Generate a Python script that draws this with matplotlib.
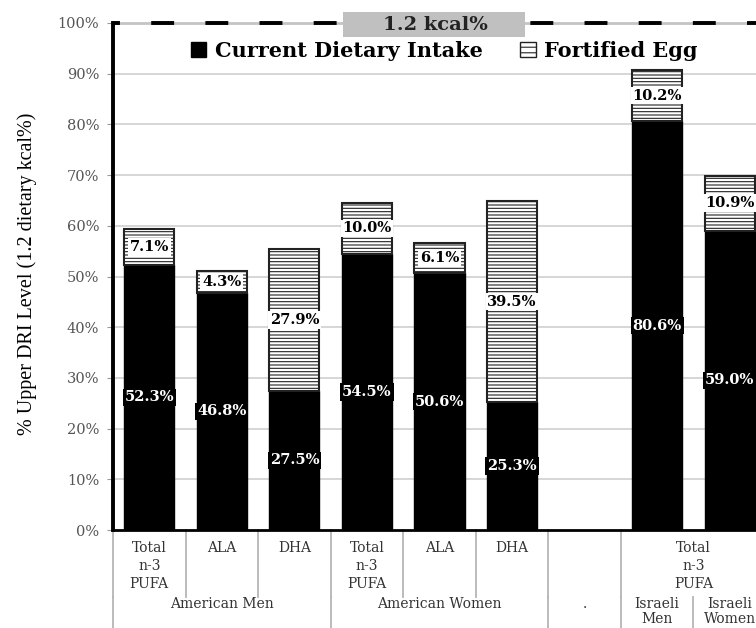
import matplotlib
matplotlib.use("Agg")
import matplotlib.pyplot as plt
from matplotlib.patches import Patch, Rectangle
import numpy as np

# slot layout (blank slot between the American and Israeli groups)
slots = ["AM Total", "AM ALA", "AM DHA", "AW Total", "AW ALA", "AW DHA",
         "blank", "IL Men", "IL Women"]
bar_slots = ["AM Total", "AM ALA", "AM DHA", "AW Total", "AW ALA", "AW DHA",
             "IL Men", "IL Women"]
current_intake = [52.3, 46.8, 27.5, 54.5, 50.6, 25.3, 80.6, 59.0]
fortified_egg = [7.1, 4.3, 27.9, 10.0, 6.1, 39.5, 10.2, 10.9]

# two-row category table under the axis: (label, first slot, last slot + 1)
row1 = [("Total\nn-3\nPUFA", 0, 1), ("ALA", 1, 2), ("DHA", 2, 3),
        ("Total\nn-3\nPUFA", 3, 4), ("ALA", 4, 5), ("DHA", 5, 6),
        ("", 6, 7), ("Total\nn-3\nPUFA", 7, 9)]
row2 = [("American Men", 0, 3), ("American Women", 3, 6), (".", 6, 7),
        ("Israeli\nMen", 7, 8), ("Israeli\nWomen", 8, 9)]

yticks = np.arange(0, 101, 10)

plt.rcParams["lines.scale_dashes"] = False
plt.rcParams["hatch.linewidth"] = 0.8
SERIF = "DejaVu Serif"

W, H = 756, 628
fig = plt.figure(figsize=(W / 100, H / 100), dpi=100)
# axes runs past the right edge, like the cropped original
ax_l, ax_r, ax_t, ax_b = 113, 766, 23, 530
ax = fig.add_axes([ax_l / W, (H - ax_b) / H, (ax_r - ax_l) / W, (ax_b - ax_t) / H])

x = np.array([slots.index(s) for s in bar_slots])

ax.bar(x, current_intake, width=0.69, color="black", edgecolor="black",
       linewidth=1, zorder=3)
ax.bar(x, fortified_egg, width=0.69, bottom=current_intake, color="white",
       edgecolor="#222222", hatch="-----", linewidth=1.5, zorder=3)

for xi, c, e in zip(x, current_intake, fortified_egg):
    ax.text(xi, c / 2, f"{c:.1f}%", ha="center", va="center", color="white",
            fontsize=10.5, fontweight="bold", family=SERIF, zorder=5,
            bbox=dict(boxstyle="square,pad=0.12", fc="black", ec="none"))
    ax.text(xi, c + e / 2, f"{e:.1f}%", ha="center", va="center", color="black",
            fontsize=10.5, fontweight="bold", family=SERIF, zorder=5,
            bbox=dict(boxstyle="square,pad=0.12", fc="white", ec="none"))

ax.set_xlim(-0.5, len(slots) - 0.5)
ax.set_ylim(0, 100)
ax.set_yticks(yticks)
ax.set_yticklabels([f"{v}%" for v in yticks], family=SERIF, fontsize=10.5,
                   color="#555555")
ax.tick_params(axis="y", length=4, color="#999999", pad=6)
ax.set_xticks([])

for v in yticks[1:]:
    ax.axhline(v, color="#cfcfcf", lw=1.2, zorder=1)
# dashed 100% line over a light grey base
ax.axhline(100, color="#c4c4c4", lw=2, zorder=2, clip_on=False)
ax.axhline(100, color="black", lw=2.8, zorder=2, clip_on=False,
           linestyle=(11.5, (16.5, 22.5)))

for s in ["top", "right"]:
    ax.spines[s].set_visible(False)
ax.spines["left"].set_linewidth(2.8)
ax.spines["bottom"].set_linewidth(2)
ax.spines["left"].set_zorder(6)

# category table below the axis
def frac(ypx):
    return (ax_b - ypx) / (ax_b - ax_t)

tr = ax.get_xaxis_transform()
sep_kw = dict(color="#b5b5b5", lw=1.3, transform=tr, clip_on=False)
for lab, a, b in row1:
    ax.text((a + b - 1) / 2, frac(541), lab, transform=tr, ha="center",
            va="top", family=SERIF, fontsize=10, color="#333333",
            linespacing=1.35)
    ax.plot([a - 0.5, a - 0.5], [frac(ax_b), frac(597)], **sep_kw)
for lab, a, b in row2:
    ax.text((a + b - 1) / 2, frac(597), lab, transform=tr, ha="center",
            va="top", family=SERIF, fontsize=10, color="#333333",
            linespacing=1.1)
    ax.plot([a - 0.5, a - 0.5], [frac(597), frac(H + 5)], **sep_kw)

fig.text(27 / W, (H - 274) / H, "% Upper DRI Level (1.2 dietary kcal%)",
         rotation=90, ha="center", va="center", family="Liberation Serif",
         fontsize=14.5, color="black")

# title box
fig.patches.append(Rectangle((343 / W, (H - 37) / H), 182 / W, 25 / H,
                             transform=fig.transFigure, fc="#c0c0c0",
                             ec="none", zorder=10))
fig.text(435 / W, (H - 24.5) / H, "1.2 kcal%", ha="center", va="center",
         family=SERIF, fontsize=14, fontweight="bold", color="#222222",
         zorder=11)

handles = [Patch(fc="black", ec="black", label="Current Dietary Intake"),
           Patch(fc="white", ec="#222222", hatch="---", label="Fortified Egg")]
fig.legend(handles=handles, loc="center", bbox_to_anchor=(444 / W, (H - 51) / H),
           ncol=2, frameon=False, handlelength=0.75, handleheight=0.75,
           handletextpad=0.4, columnspacing=1.8,
           prop=dict(family=SERIF, weight="bold", size=15))

fig.savefig("out.png", dpi=100)
